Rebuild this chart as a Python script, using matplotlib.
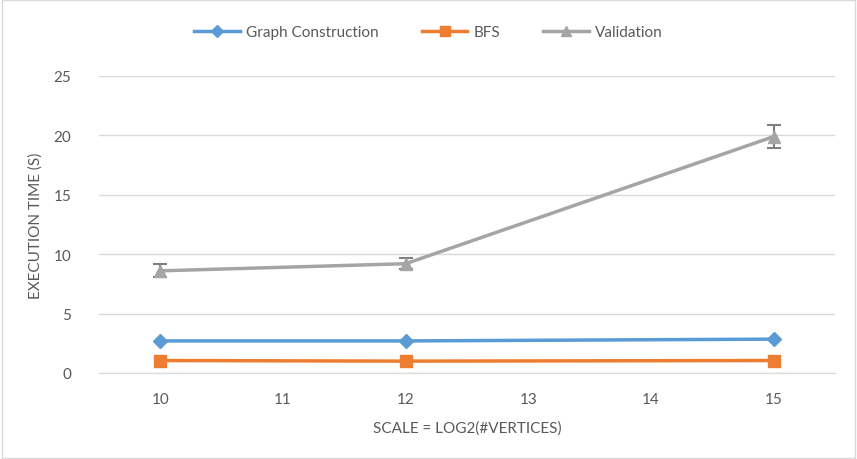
import matplotlib.pyplot as plt
from matplotlib.patches import Rectangle
from matplotlib.lines import Line2D

plt.rcParams['font.family'] = ['Lato', 'DejaVu Sans']

scale = [10, 12, 15]
graph_construction = [2.7, 2.7, 2.85]
bfs = [1.05, 1.0, 1.05]
validation = [8.6, 9.2, 19.9]
validation_err = [0.55, 0.45, 1.0]

text_col = '#595959'
blue, orange, grey = '#5B9BD5', '#ED7D31', '#A5A5A5'

fig = plt.figure(figsize=(8.57, 4.6), dpi=100)
ax = fig.add_axes([99 / 857, 86 / 460, 736 / 857, 297 / 460])

ax.plot(scale, graph_construction, color=blue, lw=2.5, marker='D', ms=7, zorder=3)
ax.plot(scale, bfs, color=orange, lw=2.5, marker='s', ms=9, zorder=3)
ax.errorbar(scale, validation, yerr=validation_err, color=grey, lw=2.5,
            marker='^', ms=9, capsize=5, elinewidth=1.5, capthick=1.5,
            ecolor='#7F7F7F', zorder=3)

ax.set_xlim(9.5, 15.5)
ax.set_ylim(0, 25)
ax.set_xticks(range(10, 16))
ax.set_yticks(range(0, 26, 5))
ax.grid(axis='y', color='#D9D9D9', lw=1)
ax.set_axisbelow(True)
for s in ['top', 'right', 'left']:
    ax.spines[s].set_visible(False)
ax.spines['bottom'].set_color('#D9D9D9')
ax.tick_params(length=0, colors=text_col, labelsize=11)
ax.tick_params(axis='x', pad=14)
ax.tick_params(axis='y', pad=20)

ax.set_xlabel('SCALE = LOG2(#VERTICES)', color=text_col, fontsize=11, labelpad=10)
ax.set_ylabel('EXECUTION TIME (S)', color=text_col, fontsize=11, labelpad=8)

handles = [
    Line2D([], [], color=blue, lw=2.5, marker='D', ms=6),
    Line2D([], [], color=orange, lw=2.5, marker='s', ms=7),
    Line2D([], [], color=grey, lw=2.5, marker='^', ms=7),
]
labels = ['Graph Construction', 'BFS', 'Validation']
fig.legend(handles, labels, loc='center', bbox_to_anchor=(0.5, 1 - 33 / 460),
           ncol=3, frameon=False, fontsize=11, labelcolor=text_col,
           handlelength=3, columnspacing=2.8, handletextpad=0.4)

fig.patches.append(Rectangle((0.002, 0.002), 0.996, 0.996, transform=fig.transFigure,
                             fill=False, edgecolor='#D9D9D9', lw=1))

fig.savefig('out.png', dpi=100)
